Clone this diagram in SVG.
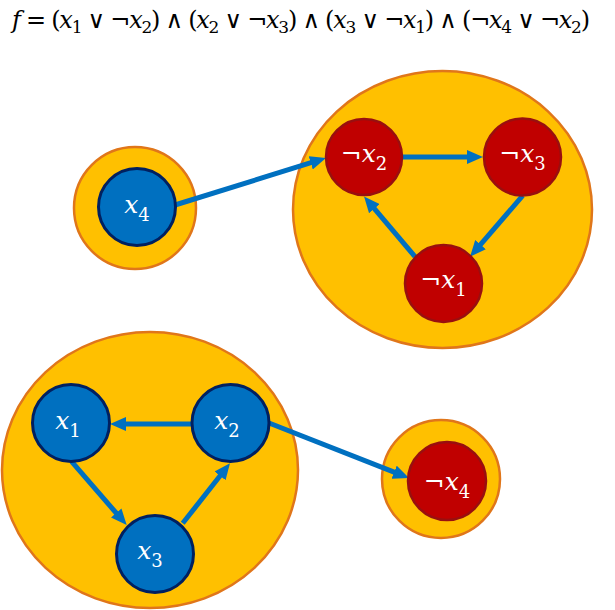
<svg xmlns="http://www.w3.org/2000/svg" width="615" height="610" viewBox="0 0 615 610">
<defs>
<style>
.grp{fill:#FFC000;stroke:#E0761A;stroke-width:2.5}
.pos{fill:#0070C0;stroke:#002060;stroke-width:3}
.neg{fill:#C00000;stroke:#990F0F;stroke-width:2.5}
.lbl{fill:#FFFFFF;font-family:"DejaVu Serif","Liberation Serif",serif;font-size:25px;text-anchor:middle}
.lbl .v{font-style:italic}
.lbl .s{font-size:18px;font-style:normal}
.eq{fill:#000;font-family:"DejaVu Serif","Liberation Serif",serif;font-size:24px}
.eq .v{font-style:italic}
.eq .s{font-size:17px}
.edge{fill:none;stroke:#0070C0;stroke-width:5}
</style>
<marker id="ah" viewBox="0 0 16 14" refX="2" refY="7" markerWidth="16" markerHeight="14" markerUnits="userSpaceOnUse" orient="auto">
<path d="M0,0 L16,7 L0,14 z" fill="#0070C0"/>
</marker>
</defs>
<rect width="615" height="610" fill="#FFFFFF"/>

<text class="eq" x="12" y="28" textLength="578" lengthAdjust="spacing"><tspan class="v">f</tspan> = (<tspan class="v">x</tspan><tspan class="s" dy="5">1</tspan><tspan dy="-5"> ∨ ¬</tspan><tspan class="v">x</tspan><tspan class="s" dy="5">2</tspan><tspan dy="-5">) ∧ (</tspan><tspan class="v">x</tspan><tspan class="s" dy="5">2</tspan><tspan dy="-5"> ∨ ¬</tspan><tspan class="v">x</tspan><tspan class="s" dy="5">3</tspan><tspan dy="-5">) ∧ (</tspan><tspan class="v">x</tspan><tspan class="s" dy="5">3</tspan><tspan dy="-5"> ∨ ¬</tspan><tspan class="v">x</tspan><tspan class="s" dy="5">1</tspan><tspan dy="-5">) ∧ (¬</tspan><tspan class="v">x</tspan><tspan class="s" dy="5">4</tspan><tspan dy="-5"> ∨ ¬</tspan><tspan class="v">x</tspan><tspan class="s" dy="5">2</tspan><tspan dy="-5">)</tspan></text>

<g id="group-x4">
<circle class="grp" cx="135" cy="208" r="61"/>
</g>
<g id="group-neg123">
<ellipse class="grp" cx="442.5" cy="209.5" rx="149.5" ry="138.5"/>
</g>
<g id="group-pos123">
<ellipse class="grp" cx="150" cy="470" rx="148" ry="138"/>
</g>
<g id="group-negx4">
<circle class="grp" cx="441" cy="479" r="59"/>
</g>

<g id="connectors">
<path class="edge" d="M175,205 L312.6,162.2" marker-end="url(#ah)"/>
<path class="edge" d="M402,157 L469,157" marker-end="url(#ah)"/>
<path class="edge" d="M522.7,195.7 L479.2,246.1" marker-end="url(#ah)"/>
<path class="edge" d="M415,256.7 L373.1,207.2" marker-end="url(#ah)"/>
<path class="edge" d="M192,424 L124,424" marker-end="url(#ah)"/>
<path class="edge" d="M71.7,461.7 L117.5,514.5" marker-end="url(#ah)"/>
<path class="edge" d="M182.7,523.3 L221.3,474.3" marker-end="url(#ah)"/>
<path class="edge" d="M269,423 L396,472.9" marker-end="url(#ah)"/>
</g>

<g id="node-x4">
<circle class="pos" cx="137" cy="207" r="38.5"/>
<text class="lbl" x="137" y="213"><tspan class="v">x</tspan><tspan class="s" dy="8">4</tspan></text>
</g>
<g id="node-negx2">
<circle class="neg" cx="364" cy="157" r="38"/>
<text class="lbl" x="364" y="162">¬<tspan class="v">x</tspan><tspan class="s" dy="8">2</tspan></text>
</g>
<g id="node-negx3">
<circle class="neg" cx="522.5" cy="157" r="38.5"/>
<text class="lbl" x="522.5" y="162">¬<tspan class="v">x</tspan><tspan class="s" dy="8">3</tspan></text>
</g>
<g id="node-negx1">
<circle class="neg" cx="443.5" cy="283.5" r="38.5"/>
<text class="lbl" x="443.5" y="288">¬<tspan class="v">x</tspan><tspan class="s" dy="8">1</tspan></text>
</g>
<g id="node-x1">
<circle class="pos" cx="71" cy="423" r="38.5"/>
<text class="lbl" x="68" y="429"><tspan class="v">x</tspan><tspan class="s" dy="8">1</tspan></text>
</g>
<g id="node-x2">
<circle class="pos" cx="230.5" cy="423" r="38.5"/>
<text class="lbl" x="227" y="429"><tspan class="v">x</tspan><tspan class="s" dy="8">2</tspan></text>
</g>
<g id="node-x3">
<circle class="pos" cx="155" cy="554" r="38.5"/>
<text class="lbl" x="150" y="559"><tspan class="v">x</tspan><tspan class="s" dy="8">3</tspan></text>
</g>
<g id="node-negx4">
<circle class="neg" cx="447" cy="481" r="39"/>
<text class="lbl" x="447" y="490">¬<tspan class="v">x</tspan><tspan class="s" dy="8">4</tspan></text>
</g>
</svg>
